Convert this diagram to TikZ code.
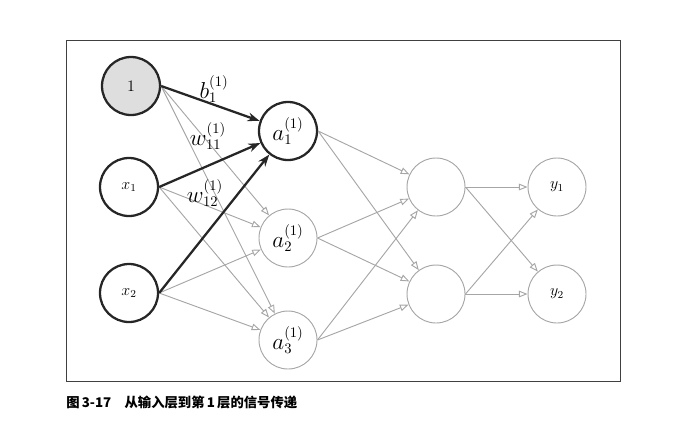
\documentclass[tikz,border=0pt]{standalone}
\usepackage{fontspec}
\usepackage{tikz}
\usetikzlibrary{arrows.meta}
\newfontfamily\cjk{Noto Sans CJK SC}
\tikzstyle{unit}=[circle, minimum size=43.5pt, inner sep=0pt, draw=black!35, line width=.7pt]
\tikzstyle{active}=[unit, draw=black!85, line width=1.7pt]
\tikzstyle{wire}=[black!35, line width=.7pt, -{Triangle[open, length=6.5pt, width=5pt]}]
\tikzstyle{signal}=[black!85, line width=1.7pt, -{Stealth[length=9pt, width=6.5pt]}]
\newcommand{\lbl}{\fontsize{16}{19}\selectfont}

\begin{document}
\begin{tikzpicture}[x=.75pt, y=-.75pt]
    \useasboundingbox (0,0) rectangle (680,422);
    \draw[black!75, line width=.6pt] (66,40) rectangle (620,381);

    % input layer
    \node[active, fill=black!13] (one) at (131,86) {\large $1$};
    \node[active] (x1) at (129,187) {\large $x_1$};
    \node[active] (x2) at (129,293) {\large $x_2$};

    % first layer
    \node[active] (a1) at (288,131) {\lbl $a_1^{(1)}$};
    \node[unit] (a2) at (288,238) {\lbl $a_2^{(1)}$};
    \node[unit] (a3) at (288,340) {\lbl $a_3^{(1)}$};

    % second layer
    \node[unit] (h1) at (436,187) {};
    \node[unit] (h2) at (436,294) {};

    % output layer
    \node[unit] (y1) at (557,187) {\large $y_1$};
    \node[unit] (y2) at (557,294) {\large $y_2$};

    \draw[wire] (one.east) -- (a2);
    \draw[wire] (one.east) -- (a3);
    \draw[wire] (x1.east) -- (a2);
    \draw[wire] (x1.east) -- (a3);
    \draw[wire] (x2.east) -- (a2);
    \draw[wire] (x2.east) -- (a3);

    \draw[signal] (one.east) -- (a1);
    \draw[signal] (x1.east) -- (a1);
    \draw[signal] (x2.east) -- (a1);

    \foreach \a in {a1,a2,a3}
        \foreach \h in {h1,h2}
            \draw[wire] (\a.east) -- (\h);

    \foreach \h in {h1,h2}
        \foreach \y in {y1,y2}
            \draw[wire] (\h.east) -- (\y);

    \node (b) at (214,89) {\lbl $b_1^{(1)}$};
    \node (w11) at (208,136) {\lbl $w_{11}^{(1)}$};
    \node (w12) at (205,193) {\lbl $w_{12}^{(1)}$};

    \node[anchor=base west, inner sep=0pt] (caption) at (66,407)
        {\cjk\bfseries 图\,3-17\quad 从输入层到第\,1\,层的信号传递};
\end{tikzpicture}
\end{document}
